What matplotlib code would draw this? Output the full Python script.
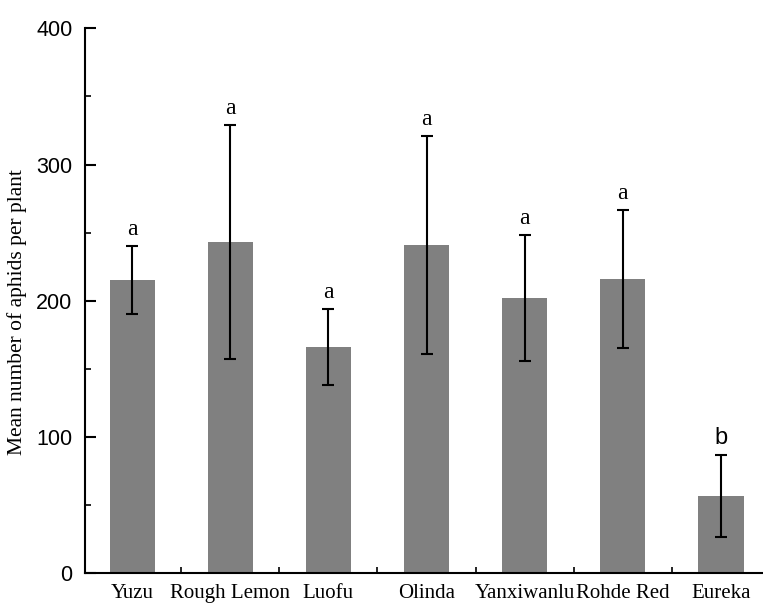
import numpy as np
import matplotlib
matplotlib.use("Agg")
import matplotlib.pyplot as plt
from matplotlib.ticker import MultipleLocator, FixedLocator

# 品種與平均蚜蟲數
cultivars = ["Yuzu", "Rough Lemon", "Luofu", "Olinda", "Yanxiwanlu", "Rohde Red", "Eureka"]
means = [215, 243, 166, 241, 202, 216, 57]
errors = [25, 86, 28, 80, 46, 51, 30]
letters = ["a", "a", "a", "a", "a", "a", "b"]

serif = "Liberation Serif"
sans = "Liberation Sans"

fig = plt.figure(figsize=(7.63, 6.04), dpi=100)
ax = fig.add_axes([85/763, 30.7/604, 685/763, 545/604])

x = np.arange(len(cultivars))
ax.bar(x, means, width=0.46, color="#808080", zorder=1)
ax.errorbar(x, means, yerr=errors, fmt="none", ecolor="black",
            elinewidth=1.5, capsize=4, capthick=1.5, zorder=2)

for i in range(len(cultivars)):
    fam = sans if letters[i] == "b" else serif
    ax.text(x[i], means[i] + errors[i] + 8, letters[i], ha="center", va="baseline",
            fontsize=17, family=fam)

ax.set_xlim(-0.48, 6.5)
ax.set_ylim(0, 400)

ax.spines["top"].set_visible(False)
ax.spines["right"].set_visible(False)
ax.spines["left"].set_linewidth(1.5)
ax.spines["bottom"].set_linewidth(1.5)

ax.yaxis.set_major_locator(MultipleLocator(100))
ax.yaxis.set_minor_locator(MultipleLocator(50))
ax.tick_params(axis="y", which="major", direction="in", length=8, width=1.5,
               labelsize=15.5, pad=9)
ax.tick_params(axis="y", which="minor", direction="in", length=4, width=1.2)
for lab in ax.get_yticklabels():
    lab.set_family(sans)

ax.set_xticks(x)
ax.set_xticklabels(cultivars, family=serif, fontsize=15)
ax.xaxis.set_minor_locator(FixedLocator(x[:-1] + 0.5))
ax.tick_params(axis="x", which="major", length=0, pad=8)
ax.tick_params(axis="x", which="minor", direction="in", length=4, width=1.2)

ax.set_ylabel("Mean number of aphids per plant", family=serif, fontsize=15.5)
ax.yaxis.set_label_coords(-0.085, 0.48)

fig.savefig("out.png", dpi=100)
